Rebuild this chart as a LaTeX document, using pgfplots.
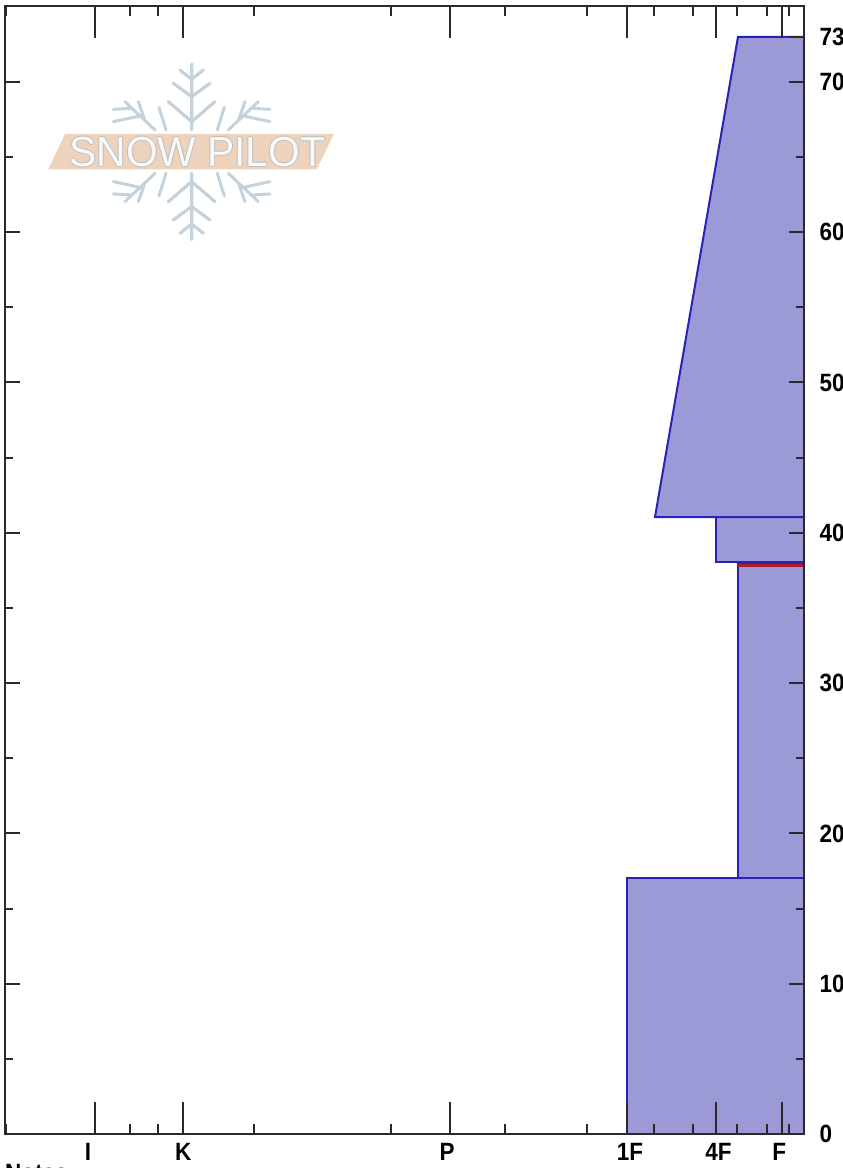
\documentclass[border=0pt]{standalone}
\usepackage{pgfplots}
\pgfplotsset{compat=1.18}
\usepackage{fontspec}
\setmainfont{Liberation Sans}
\definecolor{layerfill}{RGB}{155,153,214}
\definecolor{layerline}{RGB}{42,34,184}
\definecolor{axisdark}{RGB}{40,40,45}
\definecolor{weakred}{RGB}{170,30,45}
\definecolor{flake}{RGB}{197,210,218}
\definecolor{band}{RGB}{237,211,188}
\newcommand{\narrow}[1]{\scalebox{.9}[1]{\fontsize{25pt}{25pt}\selectfont\bfseries #1}}
\newcommand{\xl}[2]{\makebox[0pt]{\hspace*{#1}\narrow{#2}}}
\pgfplotstableread{
x y
804 0
627 0
627 17.05
804 17.05
}\layerA
\pgfplotstableread{
x y
804 17.05
738 17.05
738 37.9
804 37.9
}\layerB
\pgfplotstableread{
x y
804 38.05
716 38.05
716 41.05
804 41.05
}\layerC
\pgfplotstableread{
x y
804 41.05
655 41.05
738 73
804 73
}\layerD
\pgfplotstableread{
x y
738 37.83
804 37.83
}\weak
\pgfplotsset{base/.style={
  scale only axis, width=799.3pt, height=1128pt,
  at={(4.7pt,34pt)}, anchor=south west,
  xmin=4.7, xmax=804, ymin=0, ymax=75.05,
  tick align=inside,
  axis line style={axisdark,line width=2.2pt},
  every tick/.style={axisdark,line width=2pt},
  tick style={axisdark,line width=2pt},
}}
\begin{document}
\begin{tikzpicture}[x=1pt,y=1pt]
\path[use as bounding box,clip] (0,0) rectangle (843pt,1168pt);
% watermark logo (zoom pixel coordinates: x0=30, y0=50, 3x)
\begin{scope}[shift={(30pt,1118pt)},x=0.3333pt,y=-0.3333pt]
  \foreach \sx/\sy in {1/1,1/-1}{
    \begin{scope}[shift={(0,305)},yscale=\sy,shift={(0,-305)}]
      \draw[flake,line width=3.2pt,line cap=round]
        (485,240)--(485,42) (485,215)--(415,155) (485,215)--(555,155)
        (485,140)--(430,100) (485,140)--(540,100)
        (485,88)--(450,60) (485,88)--(520,60);
      \foreach \m in {1,-1}{
        \begin{scope}[shift={(485,0)},xscale=\m,shift={(-485,0)}]
          \draw[flake,line width=3pt,line cap=round]
            (375,240)--(285,155) (330,198)--(250,215) (305,175)--(250,178)
            (345,212)--(325,155) (408,240)--(387,172);
        \end{scope}
      }
    \end{scope}
  }
  \fill[band] (55,358)--(105,252)--(912,252)--(860,358)--cycle;
  \foreach \dx/\dy in {-3/0,3/0,0/-3,0/3}{
    \node[text=gray!50,inner sep=0pt] at (502+\dx,305+\dy)
      {\scalebox{.97}[1]{\fontsize{42pt}{42pt}\selectfont SNOW PILOT}};
  }
  \node[text=white!95!gray,inner sep=0pt] at (502,305)
      {\scalebox{.97}[1]{\fontsize{42pt}{42pt}\selectfont SNOW PILOT}};
\end{scope}
% data and hardness axis
\begin{axis}[base,
  axis on top,
  xtick={95,183.3,450,627,715.5,781.7},
  xticklabels={\xl{-14pt}{I},\xl{0pt}{K},\xl{-6pt}{P},\xl{6pt}{1F},\xl{6pt}{4F},\xl{-5pt}{F}},
  minor xtick={5.5,130,157.7,254,391,505,587,654.3,693,737.3,767,789},
  xtick pos=both, xticklabel pos=bottom,
  ytick=\empty,
  major tick length=32pt, minor tick length=10pt,
  x tick label style={anchor=base,inner sep=0pt,yshift=-26pt},
]
\addplot[fill=layerfill,draw=layerline,line width=2pt] table {\layerA} -- cycle;
\addplot[fill=layerfill,draw=layerline,line width=2pt] table {\layerB} -- cycle;
\addplot[fill=layerfill,draw=layerline,line width=2pt] table {\layerC} -- cycle;
\addplot[fill=layerfill,draw=layerline,line width=2pt] table {\layerD} -- cycle;
\addplot[draw=weakred,line width=3pt] table {\weak};
\end{axis}
% depth axis, ticks on both sides
\begin{axis}[base,
  xtick=\empty,
  ytick={0,10,20,30,40,50,60,70},
  minor ytick={5,15,25,35,45,55,65},
  ytick pos=both, yticklabel pos=right,
  major tick length=15pt, minor tick length=8.5pt,
  yticklabel={\narrow{\pgfmathprintnumber{\tick}}},
  y tick label style={anchor=west,inner sep=0pt,xshift=15.5pt},
  /pgf/number format/assume math mode=true,
]
\end{axis}
% total depth tick on the right side only
\begin{axis}[base,
  hide x axis,
  axis y line*=right,
  ytick={73},
  major tick length=15pt,
  yticklabel={\narrow{\pgfmathprintnumber{\tick}}},
  y tick label style={anchor=west,inner sep=0pt,xshift=15.5pt},
  /pgf/number format/assume math mode=true,
]
\end{axis}
\node[anchor=base west,inner sep=0pt] at (5pt,-13pt) {\narrow{Notes:}};
\end{tikzpicture}
\end{document}
